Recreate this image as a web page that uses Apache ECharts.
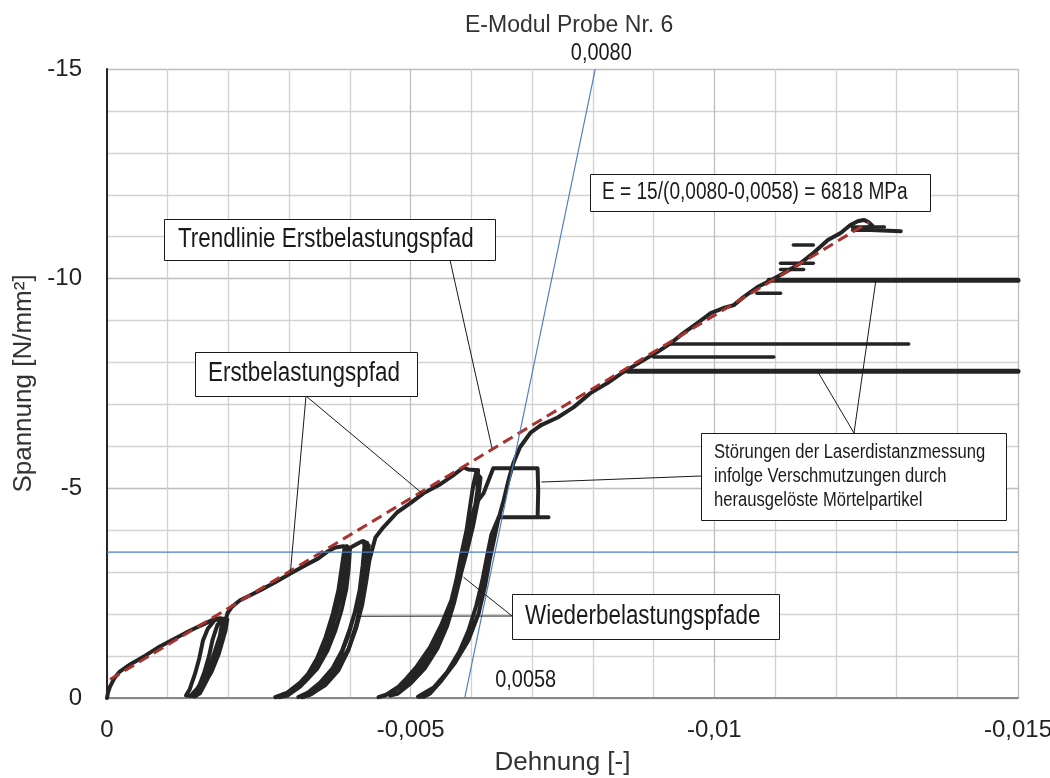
<!DOCTYPE html>
<html>
<head>
<meta charset="utf-8">
<title>E-Modul Probe Nr. 6</title>
<script src="https://cdn.jsdelivr.net/npm/echarts@6/dist/echarts.min.js"></script>
<style>
  html, body { margin: 0; padding: 0; background: #fff; }
  #chart { width: 1050px; height: 778px; }
</style>
</head>
<body>
<div id="chart"></div>
<script>
// Dehnung [-] / Spannung [N/mm²], beide negativ (Druck)
const xTicks = [0, -0.005, -0.01, -0.015]
const yTicks = [0, -5, -10, -15]

// Erstbelastung bis zur ersten Entlastung
const firstLoading = [[0, 0], [-0.000016, -0.13], [-0.00005, -0.27], [-0.00012, -0.47], [-0.00021, -0.63],
  [-0.00038, -0.80], [-0.00063, -1.01], [-0.00087, -1.23], [-0.00112, -1.42], [-0.00137, -1.61],
  [-0.00162, -1.78], [-0.00175, -1.87], [-0.00186, -1.90], [-0.00198, -1.87]]

const loop1 = [[-0.00198, -1.87], [-0.00195, -1.60], [-0.00190, -1.37], [-0.00180, -0.95], [-0.00170, -0.58],
  [-0.00160, -0.30], [-0.00153, -0.11], [-0.00145, -0.04], [-0.00130, -0.06], [-0.00136, -0.20],
  [-0.00145, -0.58], [-0.00152, -0.95], [-0.00158, -1.37], [-0.00166, -1.65], [-0.00178, -1.87],
  [-0.00190, -1.85], [-0.00185, -1.40], [-0.00176, -0.98], [-0.00162, -0.55], [-0.00150, -0.25],
  [-0.00138, -0.06], [-0.00142, -0.07], [-0.00152, -0.30], [-0.00160, -0.60], [-0.00168, -1.00],
  [-0.00174, -1.40], [-0.00182, -1.75], [-0.00192, -1.88], [-0.00197, -1.80], [-0.00192, -1.45],
  [-0.00184, -1.05], [-0.00172, -0.62], [-0.00158, -0.28], [-0.00145, -0.04], [-0.00156, -0.25],
  [-0.00164, -0.55], [-0.00174, -0.95], [-0.00184, -1.40], [-0.00192, -1.75], [-0.00197, -1.95],
  [-0.00199, -2.04]]

const secondLoading = [[-0.00199, -2.04], [-0.00206, -2.18], [-0.00219, -2.33], [-0.00236, -2.45],
  [-0.00255, -2.59], [-0.00277, -2.76], [-0.00302, -2.97], [-0.00326, -3.16], [-0.00348, -3.33],
  [-0.00364, -3.50], [-0.00376, -3.59], [-0.00389, -3.62], [-0.00397, -3.59]]

const loop2a = [[-0.00397, -3.59], [-0.00396, -3.40], [-0.00393, -3.04], [-0.00387, -2.57], [-0.00379, -2.09],
  [-0.00369, -1.61], [-0.00356, -1.13], [-0.00339, -0.70], [-0.00318, -0.37], [-0.00297, -0.13],
  [-0.00277, -0.02], [-0.00288, -0.05], [-0.00310, -0.25], [-0.00330, -0.55], [-0.00346, -0.95],
  [-0.00360, -1.45], [-0.00372, -2.02], [-0.00381, -2.57], [-0.00387, -3.16], [-0.00391, -3.56],
  [-0.00395, -3.62], [-0.00400, -3.55], [-0.00398, -3.10], [-0.00394, -2.60], [-0.00386, -2.09],
  [-0.00376, -1.61], [-0.00363, -1.13], [-0.00346, -0.70], [-0.00325, -0.37], [-0.00304, -0.13],
  [-0.00285, -0.02], [-0.00297, -0.06], [-0.00318, -0.27], [-0.00338, -0.58], [-0.00354, -1.00],
  [-0.00367, -1.50], [-0.00378, -2.05], [-0.00386, -2.60], [-0.00392, -3.20], [-0.00396, -3.55],
  [-0.00410, -3.66], [-0.00420, -3.74], [-0.00428, -3.70]]

const loop2b = [[-0.00428, -3.70], [-0.00428, -3.62], [-0.00426, -3.30], [-0.00423, -2.95], [-0.00417, -2.57],
  [-0.00409, -2.09], [-0.00399, -1.61], [-0.00387, -1.13], [-0.00371, -0.70], [-0.00351, -0.37],
  [-0.00331, -0.13], [-0.00315, -0.02], [-0.00326, -0.06], [-0.00348, -0.27], [-0.00368, -0.58],
  [-0.00384, -0.99], [-0.00397, -1.47], [-0.00408, -2.04], [-0.00416, -2.57], [-0.00421, -3.16],
  [-0.00424, -3.64], [-0.00422, -3.74], [-0.00431, -3.64], [-0.00429, -3.20], [-0.00425, -2.75],
  [-0.00419, -2.30], [-0.00410, -1.73], [-0.00398, -1.18], [-0.00380, -0.73], [-0.00358, -0.35],
  [-0.00338, -0.11], [-0.00322, -0.02]]

const thirdLoading = [[-0.00322, -0.02], [-0.00335, -0.08], [-0.00359, -0.30], [-0.00381, -0.66],
  [-0.00397, -1.13], [-0.00410, -1.66], [-0.00420, -2.21], [-0.00427, -2.80], [-0.00432, -3.28],
  [-0.00437, -3.56], [-0.00442, -3.83], [-0.00455, -4.07], [-0.00478, -4.43], [-0.00499, -4.64],
  [-0.00521, -4.88], [-0.00549, -5.10], [-0.00570, -5.31], [-0.00587, -5.50], [-0.00595, -5.45],
  [-0.00611, -5.43]]

const loop3 = [[-0.00611, -5.43], [-0.00610, -5.20], [-0.00610, -4.95], [-0.00605, -4.47], [-0.00598, -3.93],
  [-0.00590, -3.40], [-0.00580, -2.85], [-0.00565, -2.21], [-0.00549, -1.61], [-0.00529, -1.09],
  [-0.00504, -0.63], [-0.00480, -0.27], [-0.00458, -0.06], [-0.00447, -0.02], [-0.00466, -0.11],
  [-0.00491, -0.35], [-0.00516, -0.70], [-0.00536, -1.13], [-0.00552, -1.66], [-0.00565, -2.21],
  [-0.00575, -2.80], [-0.00583, -3.40], [-0.00592, -4.00], [-0.00598, -4.59], [-0.00603, -5.07],
  [-0.00608, -5.38], [-0.00615, -5.25], [-0.00611, -4.71], [-0.00603, -4.12], [-0.00593, -3.52],
  [-0.00582, -2.92], [-0.00567, -2.33], [-0.00550, -1.73], [-0.00532, -1.21], [-0.00509, -0.73],
  [-0.00486, -0.35], [-0.00466, -0.06], [-0.00478, -0.10], [-0.00500, -0.35], [-0.00524, -0.72],
  [-0.00544, -1.18], [-0.00560, -1.72], [-0.00572, -2.30], [-0.00582, -2.90], [-0.00590, -3.50],
  [-0.00598, -4.10], [-0.00605, -4.55], [-0.00611, -4.71]]

// Sprung der Laserdistanzmessung bei ca. -5 N/mm²
const box3 = [[-0.00611, -4.71], [-0.00620, -4.88], [-0.00636, -5.48], [-0.00709, -5.48], [-0.00710, -4.95],
  [-0.00709, -4.31], [-0.00727, -4.31], [-0.00645, -4.31]]

const loop3Right = [[-0.00645, -4.31], [-0.00633, -3.90], [-0.00626, -3.40], [-0.00618, -2.80],
  [-0.00608, -2.20], [-0.00595, -1.60], [-0.00580, -1.10], [-0.00560, -0.62], [-0.00538, -0.25],
  [-0.00512, -0.03], [-0.00522, -0.03], [-0.00532, -0.11], [-0.00551, -0.42], [-0.00572, -0.82],
  [-0.00595, -1.37], [-0.00612, -2.02], [-0.00622, -2.64], [-0.00630, -3.28], [-0.00637, -3.76],
  [-0.00644, -4.24], [-0.00653, -4.71], [-0.00661, -5.19], [-0.00669, -5.60], [-0.00680, -5.98],
  [-0.00697, -6.32], [-0.00714, -6.50]]

const upperLoading = [[-0.00714, -6.50], [-0.00742, -6.69], [-0.00768, -6.93], [-0.00796, -7.27],
  [-0.00824, -7.51], [-0.00850, -7.77], [-0.00878, -8.01], [-0.00906, -8.25], [-0.00928, -8.46],
  [-0.00949, -8.70], [-0.00972, -8.94], [-0.00994, -9.18], [-0.01015, -9.30], [-0.01032, -9.37],
  [-0.01048, -9.56], [-0.01071, -9.80], [-0.01093, -9.96], [-0.01114, -10.13], [-0.01142, -10.37],
  [-0.01163, -10.61], [-0.01187, -10.92], [-0.01208, -11.09], [-0.01224, -11.28], [-0.01236, -11.37],
  [-0.01246, -11.40], [-0.01254, -11.35], [-0.01261, -11.25], [-0.01241, -11.18], [-0.01228, -11.16],
  [-0.01257, -11.16], [-0.01307, -11.13]]

// Störungen (horizontale Ausreißer)
const spikesThick = [
  [[-0.00858, -7.79], [-0.015, -7.79]],
  [[-0.01090, -9.96], [-0.015, -9.96]]
]
const spikesThin = [
  [[-0.00900, -8.13], [-0.01098, -8.13]],
  [[-0.00928, -8.44], [-0.01320, -8.44]],
  [[-0.01070, -9.65], [-0.01109, -9.65]],
  [[-0.01109, -10.22], [-0.01147, -10.22]],
  [[-0.01109, -10.37], [-0.01163, -10.37]],
  [[-0.01130, -10.80], [-0.01163, -10.80]],
  [[-0.01227, -11.23], [-0.01280, -11.23]]
]

const trendLine = [[-0.00005, -0.44], [-0.01255, -11.35]]
const eModulLine = [[-0.00589, 0], [-0.00804, -15]]
const levelLine = [[0, -3.48], [-0.015, -3.48]]

// Zielpunkte der Beschriftungen
const trendTarget = [-0.00634, -5.95]
const erstTargets = [[-0.00302, -3.0], [-0.00519, -4.88]]
const stoerTargets = [[-0.01266, -9.96], [-0.0117, -7.79], [-0.00715, -5.15]]
const wiederTargets = [[-0.00412, -1.95], [-0.00587, -2.88]]

const FONT = '"Liberation Sans", Arial, sans-serif'
const NARROW = 0.83
const BLACK = '#242424'

function curve(data, width) {
  return {
    type: 'line', data: data, showSymbol: false, symbol: 'none', silent: true,
    lineStyle: { color: BLACK, width: width || 4, join: 'round', cap: 'round' },
    z: 3
  }
}

const series = [firstLoading, loop1, secondLoading, loop2a, loop2b, thirdLoading, loop3, box3, loop3Right, upperLoading]
  .map(d => curve(d))
spikesThick.forEach(d => series.push(curve(d, 5)))
spikesThin.forEach(d => series.push(curve(d, 3.5)))
series.push({
  type: 'line', data: trendLine, showSymbol: false, symbol: 'none', silent: true,
  lineStyle: { color: '#a8322d', width: 3, type: [11, 6] }, z: 4
})
series.push({
  type: 'line', data: eModulLine, showSymbol: false, symbol: 'none', silent: true,
  lineStyle: { color: '#4a7fc1', width: 1.2 }, z: 5
})
series.push({
  type: 'line', data: levelLine, showSymbol: false, symbol: 'none', silent: true,
  lineStyle: { color: '#4a7fc1', width: 1.2 }, z: 5
})

const chart = echarts.init(document.getElementById('chart'))
chart.setOption({
  animation: false,
  backgroundColor: '#fff',
  title: {
    text: 'E-Modul Probe Nr. 6', left: 460, top: 9,
    textStyle: { fontSize: 23, fontWeight: 'normal', color: '#333', fontFamily: FONT }
  },
  grid: { left: 107, right: 32, top: 69, bottom: 80, containLabel: false, outerBoundsMode: 'none' },
  xAxis: {
    type: 'value', min: xTicks[3], max: xTicks[0], interval: 0.005, inverse: true,
    name: 'Dehnung [-]', nameLocation: 'middle', nameGap: 52,
    nameTextStyle: { fontSize: 26, color: '#333', fontFamily: FONT },
    axisLine: { onZero: false, lineStyle: { color: '#888', width: 2 } },
    axisTick: { show: false },
    axisLabel: {
      fontSize: 24, color: '#222', fontFamily: FONT, margin: 20,
      formatter: v => (v === 0 ? '0' : String(+v.toFixed(3)).replace('.', ','))
    },
    splitLine: { lineStyle: { color: '#bdbdbd', width: 1.3 } },
    minorTick: { show: false, splitNumber: 5 },
    minorSplitLine: { show: true, lineStyle: { color: '#d2d2d2', width: 1.3 } }
  },
  yAxis: {
    type: 'value', min: yTicks[3], max: yTicks[0], interval: 5, inverse: true,
    name: 'Spannung [N/mm²]', nameLocation: 'middle', nameRotate: 90, nameGap: 57,
    nameTextStyle: { fontSize: 26, color: '#333', fontFamily: FONT },
    axisLine: { onZero: false, lineStyle: { color: '#262626', width: 2 } },
    axisTick: { show: false },
    axisLabel: { fontSize: 24, color: '#222', fontFamily: FONT, margin: 25 },
    splitLine: { lineStyle: { color: '#bdbdbd', width: 1.3 } },
    minorTick: { show: false, splitNumber: 5 },
    minorSplitLine: { show: true, lineStyle: { color: '#d2d2d2', width: 1.3 } }
  },
  series: series
})

// Beschriftungen mit Hinweislinien
const toPx = p => chart.convertToPixel({ gridIndex: 0 }, p)
const INK = '#1a1a1a'
function box(x, y, w, h) {
  return { type: 'rect', shape: { x: x + 0.5, y: y + 0.5, width: w, height: h },
    style: { fill: '#fff', stroke: INK, lineWidth: 1 }, z: 102 }
}
function text(x, y, str, size, extra) {
  return { type: 'text', x: x, y: y, z: 103, scaleX: NARROW,
    style: Object.assign({ text: str, fontSize: size, fontFamily: FONT, fill: INK,
      align: 'left', verticalAlign: 'middle' }, extra || {}) }
}
function leader(from, target) {
  const p = toPx(target)
  return { type: 'line', shape: { x1: from[0], y1: from[1], x2: p[0], y2: p[1] },
    style: { stroke: INK, lineWidth: 1 }, z: 101 }
}

const top80 = toPx(eModulLine[1])
const bot58 = toPx(eModulLine[0])
const g = [
  leader([450, 260], trendTarget),
  box(164, 219, 331, 41), text(178, 240, 'Trendlinie Erstbelastungspfad', 27),

  leader([306, 396], erstTargets[0]), leader([306, 396], erstTargets[1]),
  box(195, 352, 222, 44), text(208, 374, 'Erstbelastungspfad', 27),

  box(590, 174, 340, 37), text(602, 193, 'E = 15/(0,0080-0,0058) = 6818 MPa', 23),

  leader([854, 433], stoerTargets[0]), leader([854, 433], stoerTargets[1]), leader([701, 476], stoerTargets[2]),
  box(701, 433, 305, 87),
  text(714, 440, 'Störungen der Laserdistanzmessung\ninfolge Verschmutzungen durch\nherausgelöste Mörtelpartikel', 20,
    { verticalAlign: 'top', lineHeight: 24 }),

  leader([512, 616], wiederTargets[0]), leader([512, 616], wiederTargets[1]),
  box(512, 594, 267, 45), text(525, 617, 'Wiederbelastungspfade', 27),

  text(top80[0] + 6, top80[1] - 16, '0,0080', 24, { align: 'center' }),
  text(bot58[0] + 61, bot58[1] - 18, '0,0058', 24, { align: 'center' })
]
chart.setOption({ graphic: g })
</script>
</body>
</html>
